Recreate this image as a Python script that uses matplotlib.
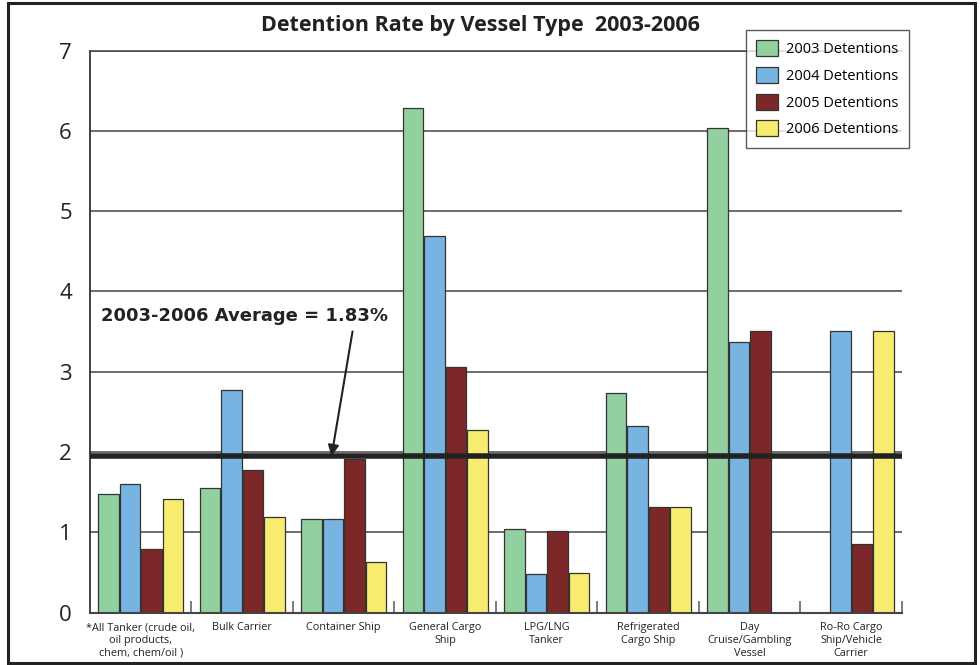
import matplotlib
matplotlib.use('Agg')
import matplotlib.pyplot as plt
import numpy as np
from matplotlib.patches import Rectangle

plt.rcParams['font.family'] = ['Open Sans', 'DejaVu Sans']

# 数据
categories = ['*All Tanker (crude oil,\noil products,\nchem, chem/oil )',
              'Bulk Carrier',
              'Container Ship',
              'General Cargo\nShip',
              'LPG/LNG\nTanker',
              'Refrigerated\nCargo Ship',
              'Day\nCruise/Gambling\nVessel',
              'Ro-Ro Cargo\nShip/Vehicle\nCarrier']
series_names = ['2003 Detentions', '2004 Detentions', '2005 Detentions', '2006 Detentions']
rate_2003 = [1.48, 1.55, 1.17, 6.29, 1.04, 2.73, 6.04, 0]
rate_2004 = [1.60, 2.77, 1.17, 4.69, 0.48, 2.32, 3.37, 3.51]
rate_2005 = [0.79, 1.78, 1.91, 3.06, 1.02, 1.31, 3.51, 0.86]
rate_2006 = [1.41, 1.19, 0.63, 2.28, 0.50, 1.31, 0, 3.51]
avg_line = 1.95   # 图中平均线的位置
avg_label = '2003-2006 Average = 1.83%'
colors = ['#92D0A0', '#77B4E2', '#7D2828', '#F7EC70']

fig = plt.figure(figsize=(9.8, 6.65), dpi=100)
ax = fig.add_axes([0.0918, 0.0787, 0.8286, 0.8452])

x = np.arange(len(categories))
step = 0.212
width = 0.2
bars = []
for k, vals in enumerate([rate_2003, rate_2004, rate_2005, rate_2006]):
    b = ax.bar(x + (k - 1.5) * step, vals, width, color=colors[k],
               edgecolor='#333333', linewidth=0.9, label=series_names[k], zorder=2)
    bars.append(b)

ax.set_xlim(-0.5, len(categories) - 0.5)
ax.set_ylim(0, 7)
ax.set_yticks(range(0, 8))
ax.yaxis.grid(True, color='#444444', linewidth=1.1)
ax.set_axisbelow(True)

ax.spines['right'].set_visible(False)
ax.spines['top'].set_color('#444444')
ax.spines['top'].set_linewidth(1.1)
ax.spines['left'].set_color('#222222')
ax.spines['left'].set_linewidth(1.2)
ax.spines['bottom'].set_color('#444444')
ax.spines['bottom'].set_linewidth(1.5)

ax.tick_params(axis='y', length=0, pad=13, labelsize=16, labelcolor='#222222')
ax.set_xticks(x)
ax.set_xticklabels(categories, fontsize=7.8, linespacing=1.2, color='#222222')
ax.tick_params(axis='x', which='major', length=0, pad=7)
ax.set_xticks(x + 0.5, minor=True)
ax.tick_params(axis='x', which='minor', direction='in', length=9, width=1.2, color='#666666')

# 平均线
ax.axhline(avg_line, color='#222222', linewidth=4, zorder=3)
ax.annotate(avg_label, xy=(1.88, avg_line), xytext=(-0.39, 3.70),
            fontsize=13, fontweight='bold', family='DejaVu Sans',
            color='#222222', ha='left', va='center',
            arrowprops=dict(arrowstyle='-|>', color='#222222', lw=1.5,
                            mutation_scale=16, relpos=(0.88, 0), shrinkA=3, shrinkB=0),
            zorder=4)

fig.text(0.49, 1 - 25 / 665, 'Detention Rate by Vessel Type  2003-2006',
         ha='center', va='center', fontsize=15.5, fontweight='bold', color='#222222')

fig.legend(handles=bars, loc='upper right', bbox_to_anchor=(909 / 980, 1 - 30 / 665),
           fontsize=10.5, frameon=True, fancybox=False, edgecolor='#333333',
           handlelength=1.5, handleheight=1.3, labelspacing=0.68, borderpad=0.7,
           handletextpad=0.6, borderaxespad=0)

# 外框
fig.patches.append(Rectangle((8 / 980, 2 / 665), 967 / 980, 660 / 665,
                             transform=fig.transFigure, fill=False,
                             linewidth=2.2, edgecolor='#222222'))

plt.savefig('out.png', dpi=100)
